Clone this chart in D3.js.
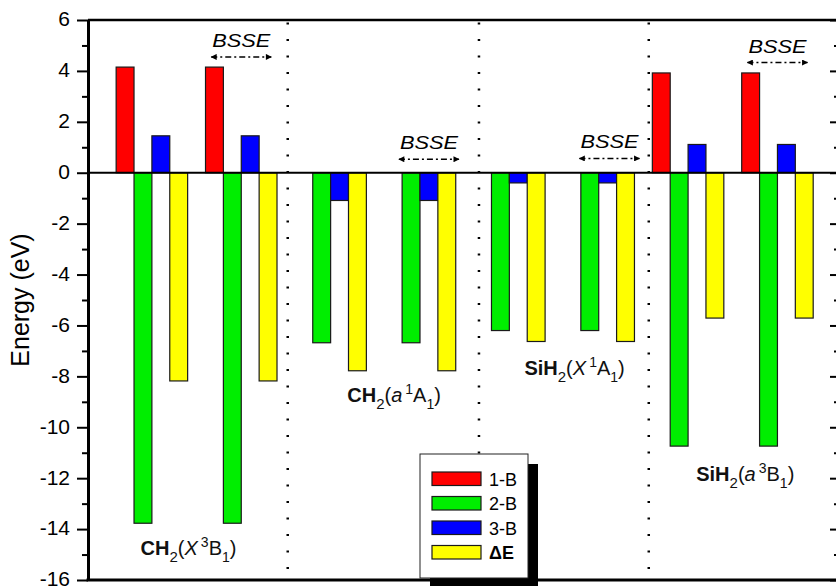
<!DOCTYPE html>
<html>
<head>
<meta charset="utf-8">
<script src="https://cdn.jsdelivr.net/npm/d3@7"></script>
<style>
  html, body { margin: 0; padding: 0; background: #fff; }
  svg { display: block; font-family: "Liberation Sans", Arial, sans-serif; }
</style>
</head>
<body>
<svg id="chart" width="836" height="586"></svg>
<script>
// ---------------- data ----------------
const setPositions = [1, 2, 3, 4, 5, 6, 7, 8];
const seriesNames = ["1-B", "2-B", "3-B", "\u0394E"];
const values1B = [4.15, 4.15, 0, 0, 0, 0, 3.92, 3.92];
const values2B = [-13.77, -13.77, -6.68, -6.68, -6.2, -6.2, -10.74, -10.74];
const values3B = [1.45, 1.45, -1.09, -1.09, -0.4, -0.4, 1.11, 1.11];
const valuesDE = [-8.18, -8.18, -7.78, -7.78, -6.63, -6.63, -5.71, -5.71];
const majorTicks = [6, 4, 2, 0, -2, -4, -6, -8, -10, -12, -14, -16];
const minorTicks = [5, 3, 1, -1, -3, -5, -7, -9, -11, -13, -15];
const separatorX = [2.52, 4.66, 6.56];
// group labels: [bold formula, subscript, italic symbol, superscript, term, term subscript]
const groupLabels = [
  ["CH", "2", "X", "3", "B", "1"],
  ["CH", "2", "a", "1", "A", "1"],
  ["SiH", "2", "X", "1", "A", "1"],
  ["SiH", "2", "a", "3", "B", "1"]
];
const groupLabelPos = [[1.41, -15.02], [3.71, -9.02], [5.73, -7.95], [7.64, -12.1]];
const bsseText = "BSSE";
const bssePos = [[2.0, 4.55], [4.1, 0.53], [6.12, 0.56], [8.0, 4.33]];

// ---------------- layout ----------------
(function () {
const colors = ["#ff0000", "#00ee00", "#0000ff", "#ffff00"];
const mLeft = 88, mRight = 840, mTop = 20, mBottom = 580;
const svg = d3.select("#chart");

const x = d3.scaleLinear().domain([0.285, 8.7]).range([mLeft, mRight]);
const y = d3.scaleLinear().domain([-16, 6]).range([mBottom, mTop]);
const barW = 0.2; // in x units

const series = [values1B, values2B, values3B, valuesDE];

// dotted separators
svg.append("g").selectAll("line").data(separatorX).join("line")
  .attr("x1", d => x(d)).attr("x2", d => x(d))
  .attr("y1", 22.5).attr("y2", mBottom)
  .attr("stroke", "#000").attr("stroke-width", 2.5)
  .attr("stroke-dasharray", "2 14.5");

// bars
const barsG = svg.append("g");
series.forEach((vals, si) => {
  barsG.append("g").selectAll("rect").data(vals.map((v, i) => ({v, c: setPositions[i]}))).join("rect")
    .attr("x", d => x(d.c + (si - 2) * barW))
    .attr("width", d => x(d.c + (si - 1) * barW) - x(d.c + (si - 2) * barW))
    .attr("y", d => y(Math.max(0, d.v)))
    .attr("height", d => Math.abs(y(d.v) - y(0)))
    .attr("fill", colors[si])
    .attr("stroke", "#1a1a1a").attr("stroke-width", 1.2);
});

// zero line
svg.append("line")
  .attr("x1", x(0.285)).attr("x2", x(8.7))
  .attr("y1", y(0)).attr("y2", y(0))
  .attr("stroke", "#000").attr("stroke-width", 2);

// axes
const leftMajor = svg.append("g").attr("transform", `translate(${mLeft},0)`)
  .call(d3.axisLeft(y).tickValues(majorTicks).tickSize(11).tickSizeOuter(0).tickPadding(7).tickFormat(d => String(d)));
leftMajor.select(".domain").attr("stroke-width", 3);
leftMajor.selectAll(".tick line").attr("stroke-width", 2);
leftMajor.selectAll(".tick text").attr("font-size", 21).attr("dy", "0.28em")
  .attr("font-family", "Liberation Sans, Arial, sans-serif").attr("fill", "#000");

const leftMinor = svg.append("g").attr("transform", `translate(${mLeft},0)`)
  .call(d3.axisLeft(y).tickValues(minorTicks).tickSize(6).tickSizeOuter(0).tickFormat(""));
leftMinor.select(".domain").remove();
leftMinor.selectAll(".tick line").attr("stroke-width", 2);

const rightMajor = svg.append("g").attr("transform", `translate(${mRight},0)`)
  .call(d3.axisLeft(y).tickValues(majorTicks).tickSize(10).tickSizeOuter(0).tickFormat(""));
rightMajor.select(".domain").attr("stroke-width", 3);
rightMajor.selectAll(".tick line").attr("stroke-width", 2);
const rightMinor = svg.append("g").attr("transform", `translate(${mRight},0)`)
  .call(d3.axisLeft(y).tickValues(minorTicks).tickSize(6).tickSizeOuter(0).tickFormat(""));
rightMinor.select(".domain").remove();
rightMinor.selectAll(".tick line").attr("stroke-width", 2);

// top and bottom frame lines
svg.append("line").attr("x1", mLeft).attr("x2", mRight).attr("y1", mTop).attr("y2", mTop)
  .attr("stroke", "#000").attr("stroke-width", 2.5);
svg.append("line").attr("x1", mLeft - 1.5).attr("x2", mRight).attr("y1", mBottom).attr("y2", mBottom)
  .attr("stroke", "#000").attr("stroke-width", 3);

// y title
svg.append("text")
  .attr("transform", `translate(29,${(mTop + mBottom) / 2}) rotate(-90)`)
  .attr("text-anchor", "middle")
  .attr("font-size", 25)
  .text("Energy (eV)");

// group labels
groupLabels.forEach((g, i) => {
  const t = svg.append("text")
    .attr("x", x(groupLabelPos[i][0])).attr("y", y(groupLabelPos[i][1]))
    .attr("text-anchor", "middle").attr("font-size", 20).attr("fill", "#111");
  t.append("tspan").attr("font-weight", "bold").text(g[0]);
  t.append("tspan").attr("font-size", 15).attr("dy", 7).text(g[1]);
  t.append("tspan").attr("dy", -7).text("(");
  t.append("tspan").attr("font-style", "italic").text(g[2]);
  t.append("tspan").attr("font-size", 14).attr("dy", -8).attr("dx", 3).text(g[3]);
  t.append("tspan").attr("dy", 8).text(g[4]);
  t.append("tspan").attr("font-size", 14).attr("dy", 7).text(g[5]);
  t.append("tspan").attr("dy", -7).text(")");
});

// BSSE annotations
const defs = svg.append("defs");
defs.append("marker").attr("id", "ah").attr("viewBox", "0 0 10 10")
  .attr("refX", 9).attr("refY", 5).attr("markerWidth", 9).attr("markerHeight", 6)
  .attr("markerUnits", "userSpaceOnUse").attr("orient", "auto-start-reverse")
  .append("path").attr("d", "M0,0 L10,5 L0,10 Z").attr("fill", "#000");

bssePos.forEach(p => {
  const cx = x(p[0]), cy = y(p[1]);
  svg.append("text").attr("x", cx - 29).attr("y", cy - 10)
    .attr("font-size", 18).attr("font-style", "italic")
    .attr("textLength", 58).attr("lengthAdjust", "spacingAndGlyphs")
    .text(bsseText);
  svg.append("line").attr("x1", cx - 30).attr("x2", cx + 30)
    .attr("y1", cy).attr("y2", cy)
    .attr("stroke", "#000").attr("stroke-width", 1.5)
    .attr("stroke-dasharray", "6 3 2 3")
    .attr("marker-start", "url(#ah)").attr("marker-end", "url(#ah)");
});

// legend
const lg = svg.append("g");
lg.append("rect").attr("x", 430).attr("y", 464).attr("width", 108).attr("height", 124).attr("fill", "#000");
lg.append("rect").attr("x", 420).attr("y", 454).attr("width", 108).attr("height", 124)
  .attr("fill", "#fff").attr("stroke", "#222").attr("stroke-width", 1);
seriesNames.forEach((n, i) => {
  const yy = 472 + i * 24.5;
  lg.append("rect").attr("x", 432).attr("y", yy).attr("width", 49).attr("height", 13.5)
    .attr("fill", colors[i]).attr("stroke", "#1a1a1a").attr("stroke-width", 1.2);
  lg.append("text").attr("x", 489).attr("y", yy + 13.5)
    .attr("font-size", 18).attr("font-weight", i === 3 ? "bold" : "normal")
    .text(n);
});
})();
</script>
</body>
</html>
